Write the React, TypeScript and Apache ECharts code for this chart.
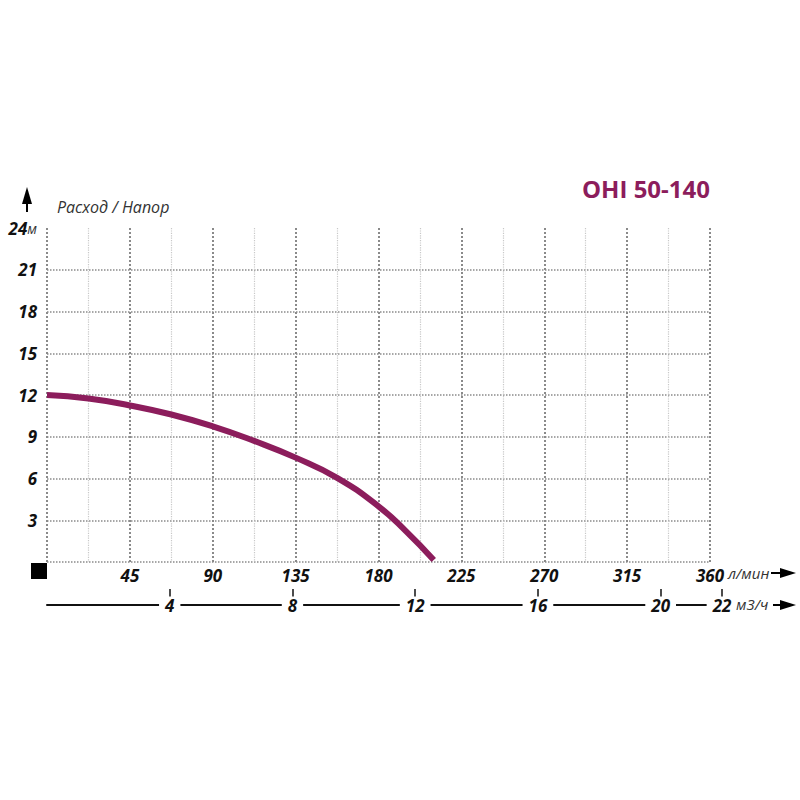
import React, { useEffect, useRef } from "react";
import * as echarts from "echarts";

const flowLpm = [0, 22.5, 45, 67.5, 90, 112.5, 135, 157.5, 180, 195, 210];
const headM = [12, 11.75, 11.25, 10.6, 9.75, 8.7, 7.5, 6.05, 4.0, 2.2, 0.15];
const flowTicks = [45, 90, 135, 180, 225, 270, 315, 360];
const m3hTicks = [4, 8, 12, 16, 20, 22];
const headTicks = [3, 6, 9, 12, 15, 18, 21, 24];

const PURPLE = "#8C1D5C";
const FONT = "'Open Sans', 'DejaVu Sans', sans-serif";

export default function App() {
  const ref = useRef<HTMLDivElement>(null);
  useEffect(() => {
    if (!ref.current) return;
    const chart = echarts.init(ref.current, null, { renderer: "svg" });
    const labelStyle = {
      fontFamily: FONT,
      fontWeight: "bold",
      fontStyle: "italic",
      fontSize: 17,
      color: "#111",
    };
    chart.setOption({
      animation: false,
      backgroundColor: "#fff",
      grid: [
        { left: 47, right: 90, top: 228, bottom: 238 },
        { left: 47, right: 78, top: 228, bottom: 238 },
      ],
      xAxis: [
        {
          type: "value",
          gridIndex: 0,
          min: 0,
          max: 360,
          interval: 45,
          axisLine: { show: false },
          axisTick: { show: false },
          axisLabel: {
            ...labelStyle,
            margin: 5,
            formatter: (v: number) =>
              v !== 0 && flowTicks.indexOf(v) >= 0 ? String(v) : "",
          },
          splitLine: {
            show: true,
            lineStyle: { type: "dotted", color: "#8a8a8a", width: 2 },
          },
          minorTick: { show: false, splitNumber: 2 },
          minorSplitLine: {
            show: true,
            lineStyle: { type: "dotted", color: "#c8c8c8", width: 1.2 },
          },
        },
        {
          type: "value",
          gridIndex: 1,
          min: 0,
          max: 22,
          interval: 2,
          position: "bottom",
          offset: 43,
          z: 3,
          axisLine: {
            show: true,
            onZero: false,
            lineStyle: { color: "#111", width: 2 },
          },
          axisTick: {
            show: true,
            inside: true,
            length: 16,
            customValues: m3hTicks,
            lineStyle: { color: "#111", width: 1.5 },
          },
          axisLabel: {
            ...labelStyle,
            customValues: m3hTicks,
            margin: 0,
            verticalAlign: "middle",
            backgroundColor: "#fff",
            lineHeight: 17,
            padding: [0, 6, 0, 6],
            formatter: (v: number) => String(v),
          },
          splitLine: { show: false },
        },
      ],
      yAxis: [
        {
          type: "value",
          gridIndex: 0,
          min: 0,
          max: 24,
          interval: 3,
          axisLine: { show: false },
          axisTick: { show: false },
          axisLabel: {
            margin: 10,
            formatter: (v: number) =>
              v === 24
                ? "{b|24}{u|м}"
                : headTicks.indexOf(v) >= 0
                ? "{b|" + v + "}"
                : "",
            rich: {
              b: { ...labelStyle },
              u: {
                fontFamily: FONT,
                fontStyle: "italic",
                fontSize: 14,
                color: "#333",
              },
            },
          },
          splitLine: {
            show: true,
            showMaxLine: false,
            lineStyle: { type: "dotted", color: "#8a8a8a", width: 1.5 },
          },
        },
        {
          type: "value",
          gridIndex: 1,
          min: 0,
          max: 24,
          show: false,
          splitLine: { show: false },
        },
      ],
      series: [
        {
          type: "line",
          xAxisIndex: 0,
          yAxisIndex: 0,
          data: flowLpm.map((f, i) => [f, headM[i]]),
          smooth: true,
          symbol: "none",
          lineStyle: { color: PURPLE, width: 6 },
          z: 5,
        },
      ],
      graphic: [
        {
          type: "text",
          left: 582,
          top: 176,
          style: {
            text: "OHI 50-140",
            font: `bold 24px ${FONT}`,
            fill: PURPLE,
          },
        },
        {
          type: "text",
          left: 57,
          top: 199,
          style: {
            text: "Расход / Напор",
            font: `italic 16px ${FONT}`,
            fill: "#333",
          },
        },
        {
          type: "text",
          left: 728,
          top: 565,
          style: {
            text: "л/мин",
            font: `italic 15px ${FONT}`,
            fill: "#333",
          },
        },
        {
          type: "text",
          left: 736,
          top: 596,
          z: 100,
          style: {
            text: "м3/ч",
            font: `italic 15px ${FONT}`,
            fill: "#333",
          },
        },
        {
          type: "rect",
          shape: { x: 31, y: 563, width: 16, height: 16 },
          style: { fill: "#000" },
        },
        {
          type: "line",
          shape: { x1: 771, y1: 573, x2: 784, y2: 573 },
          style: { stroke: "#000", lineWidth: 2 },
        },
        {
          type: "polygon",
          shape: { points: [[780, 568], [796, 573], [780, 578]] },
          style: { fill: "#000" },
        },
        {
          type: "line",
          shape: { x1: 773, y1: 605, x2: 784, y2: 605 },
          style: { stroke: "#000", lineWidth: 2 },
        },
        {
          type: "polygon",
          shape: { points: [[780, 600], [796, 605], [780, 610]] },
          style: { fill: "#000" },
        },
        {
          type: "line",
          shape: { x1: 27, y1: 198, x2: 27, y2: 212 },
          style: { stroke: "#000", lineWidth: 2 },
        },
        {
          type: "polygon",
          shape: { points: [[22, 204], [27, 187], [32, 204]] },
          style: { fill: "#000" },
        },
      ],
    });
    return () => chart.dispose();
  }, []);
  return (
    <div
      ref={ref}
      style={{ position: "absolute", left: 0, top: 0, width: 800, height: 800 }}
    />
  );
}
